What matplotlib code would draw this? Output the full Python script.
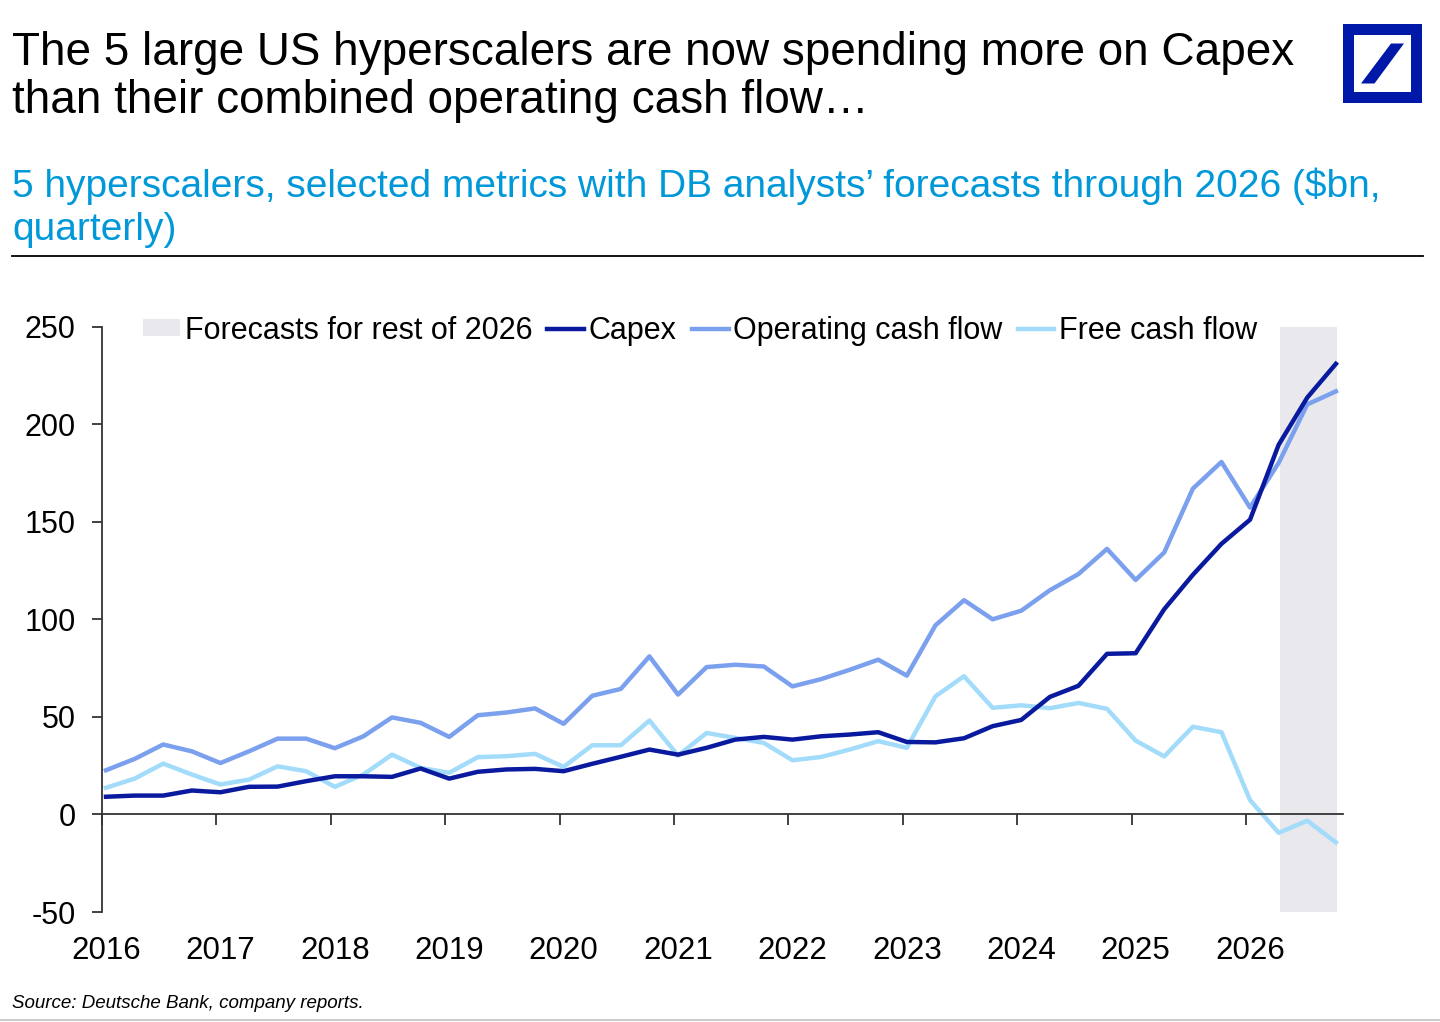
import numpy as np
import matplotlib
matplotlib.use("Agg")
import matplotlib.pyplot as plt
from matplotlib.patches import Patch, Rectangle, Polygon
from matplotlib.lines import Line2D

plt.rcParams['font.family'] = ['Liberation Sans', 'DejaVu Sans']

# quarterly data, 2016Q1 .. 2026Q4 ($bn)
years = list(range(2016, 2027))
capex = [9.1, 9.7, 9.7, 12.3, 11.4, 14.2, 14.3, 17.1, 19.6, 19.6, 19.3, 23.6,
         18.4, 21.9, 23.1, 23.4, 22.2, 26.0, 29.6, 33.3, 30.7, 34.2, 38.4, 39.8,
         38.4, 40.1, 41.0, 42.2, 37.2, 37.0, 39.1, 45.3, 48.5, 60.3, 66.0, 82.4,
         82.7, 105.3, 122.9, 138.8, 151.2, 189.6, 213.8, 231.1]
op_cash_flow = [22.7, 28.5, 35.9, 32.4, 26.4, 32.4, 38.9, 38.9, 34.0, 40.1, 49.8, 47.0,
                39.8, 50.9, 52.3, 54.4, 46.5, 60.9, 64.4, 81.1, 61.5, 75.6, 76.8, 75.9,
                65.7, 69.4, 74.2, 79.4, 71.2, 97.0, 109.9, 100.1, 104.5, 115.0, 123.3, 136.2,
                120.3, 134.4, 167.1, 180.8, 157.4, 180.3, 210.3, 217.0]
free_cash_flow = [13.7, 18.4, 26.1, 20.5, 15.4, 17.9, 24.7, 22.2, 14.2, 20.5, 30.7, 23.9,
                  21.4, 29.4, 29.9, 31.1, 24.4, 35.5, 35.5, 48.2, 30.2, 41.8, 39.3, 36.7,
                  27.8, 29.5, 33.3, 37.6, 34.2, 60.6, 70.9, 54.7, 56.0, 54.5, 57.2, 54.2,
                  37.9, 29.8, 45.0, 42.2, 7.4, -9.4, -3.2, -14.3]
yticks = [-50, 0, 50, 100, 150, 200, 250]

# forecast shading, quarter index 2026Q2 .. 2026Q4
fc_start, fc_end = 41.05, 43.05

c_capex = '#0a1a9e'
c_ocf = '#7ba0ee'
c_fcf = '#a2dcfa'
c_shade = '#e9e9ed'
c_sub = '#0098d8'

W, H = 1440, 1022
fig = plt.figure(figsize=(W / 100, H / 100), dpi=100)

ax = fig.add_axes([102 / W, 1 - 912 / H, 1241 / W, 585 / H])
q = np.arange(len(capex))

ax.axvspan(fc_start, fc_end, color=c_shade, lw=0, zorder=0)
ax.plot(q, free_cash_flow, color=c_fcf, lw=3.2, zorder=3)
ax.plot(q, op_cash_flow, color=c_ocf, lw=3.2, zorder=3)
ax.plot(q, capex, color=c_capex, lw=3.2, zorder=4)

ax.set_xlim(-0.14, 43.25)
ax.set_ylim(-50, 250)
ax.set_yticks(yticks)
ax.set_yticklabels([str(v) for v in yticks])

for s in ['top', 'right']:
    ax.spines[s].set_visible(False)
ax.spines['left'].set_color('#333333')
ax.spines['left'].set_linewidth(1.3)
ax.spines['bottom'].set_position(('data', 0))
ax.spines['bottom'].set_color('#333333')
ax.spines['bottom'].set_linewidth(1.3)
ax.spines['bottom'].set_zorder(5)

ax.set_xticks([4 * k - 0.14 for k in range(len(years))])
ax.tick_params(axis='x', direction='out', length=8, width=1.3, color='#333333',
               labelbottom=False)
ax.tick_params(axis='y', direction='out', length=7, width=1.3, color='#333333',
               labelsize=22, pad=12)

# year labels along the bottom edge
sec = ax.secondary_xaxis(0)
sec.set_xticks([4 * k for k in range(len(years))])
sec.set_xticklabels([str(y) for y in years])
sec.tick_params(length=0, labelsize=22.5, pad=17)
sec.spines['bottom'].set_visible(False)

handles = [Patch(facecolor=c_shade, edgecolor='none'),
           Line2D([], [], color=c_capex, lw=3.2),
           Line2D([], [], color=c_ocf, lw=3.2),
           Line2D([], [], color=c_fcf, lw=3.2)]
labels = ['Forecasts for rest of 2026', 'Capex', 'Operating cash flow', 'Free cash flow']
ax.legend(handles, labels, ncol=4, loc='center', bbox_to_anchor=(0.482, 0.994),
          frameon=False, fontsize=22, handlelength=1.2, handletextpad=0.15,
          columnspacing=0.5, handleheight=0.5)

# titles
fig.text(12 / W, 1 - 65 / H, 'The 5 large US hyperscalers are now spending more on Capex',
         fontsize=33, va='baseline', ha='left', color='black')
fig.text(12 / W, 1 - 113 / H, 'than their combined operating cash flow\u2026',
         fontsize=33, va='baseline', ha='left', color='black')
fig.text(12 / W, 1 - 197 / H,
         '5 hyperscalers, selected metrics with DB analysts\u2019 forecasts through 2026 ($bn,',
         fontsize=28, va='baseline', ha='left', color=c_sub)
fig.text(12 / W, 1 - 240 / H, 'quarterly)', fontsize=28, va='baseline', ha='left', color=c_sub)
fig.add_artist(Line2D([12 / W, 1423 / W], [1 - 256 / H, 1 - 256 / H], color='black', lw=1.3))

fig.text(12 / W, 1 - 1008 / H, 'Source: Deutsche Bank, company reports.', fontsize=13.5,
         style='italic', va='baseline', ha='left', color='black')
fig.add_artist(Line2D([0, 1], [1 - 1020 / H, 1 - 1020 / H], color='#cccccc', lw=1.5))

# logo
lax = fig.add_axes([1343 / W, 1 - 103 / H, 79 / W, 79 / H])
lax.set_xlim(0, 79)
lax.set_ylim(79, 0)
lax.axis('off')
lax.add_patch(Rectangle((0, 0), 79, 79, color='#0018a8', lw=0))
lax.add_patch(Rectangle((11, 11), 57, 57, color='white', lw=0))
lax.add_patch(Polygon([(18, 59.5), (31.5, 59.5), (61, 19.5), (48, 19.5)], closed=True,
                      color='#0018a8', lw=0))

fig.savefig('out.png', dpi=100)
